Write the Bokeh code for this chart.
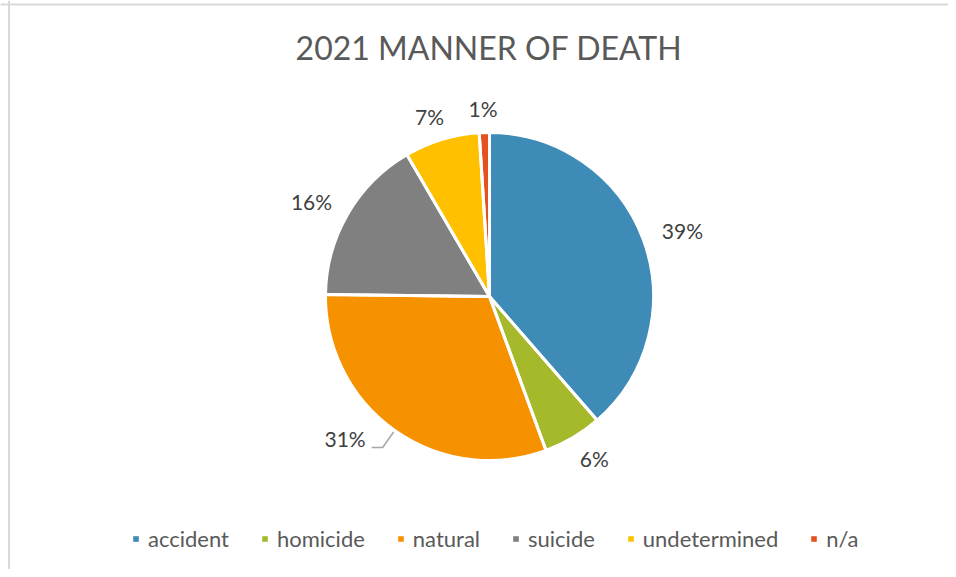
import numpy as np
from bokeh.plotting import figure
from bokeh.models import ColumnDataSource, Range1d, Legend, LegendItem, Label, Span
from bokeh.core.properties import value
from bokeh.embed import file_html
from bokeh.resources import INLINE

# ---- data ----
categories = ["accident", "homicide", "natural", "suicide", "undetermined", "n/a"]
shares = [38.6, 5.8, 30.8, 16.4, 7.4, 1.0]
colors = ["#3F8BB7", "#A5B92A", "#F69200", "#808080", "#FFC000", "#E4531F"]
leader = [False, False, True, False, False, False]
title_text = "2021 MANNER OF DEATH"

FONT = "Lato"
W, H = 948, 569
cx, cy, R = 489, H - 296, 164

frac = np.array(shares) / sum(shares)
cum = np.concatenate([[0.0], np.cumsum(frac)])
start = np.pi / 2 - 2 * np.pi * cum[:-1]
end = np.pi / 2 - 2 * np.pi * cum[1:]
mid = (start + end) / 2
labels = [f"{round(s)}%" for s in shares]

src = ColumnDataSource(dict(
    x=[cx] * len(categories), y=[cy] * len(categories),
    start=start, end=end, color=colors, name=categories,
))

p = figure(width=W, height=H, output_backend="svg", toolbar_location=None,
           x_range=Range1d(0, W), y_range=Range1d(0, H),
           x_axis_type=None, y_axis_type=None, min_border=0,
           outline_line_color=None, background_fill_color="white",
           border_fill_color="white")
p.grid.visible = False

# border lines (top and left)
p.add_layout(Span(location=H - 4, dimension="width", line_color="#D9D9D9", line_width=2))
p.add_layout(Span(location=8.5, dimension="height", line_color="#D9D9D9", line_width=2))

fill_r = p.wedge(x="x", y="y", radius=R, start_angle="start", end_angle="end",
                 direction="clock", fill_color="color", line_color=None, source=src)
p.wedge(x="x", y="y", radius=R, start_angle="start", end_angle="end",
        direction="clock", fill_color=None, line_color="white", line_width=3, source=src)

# data labels
ax, by = 206, 188
nx, ny, nt = [], [], []
for i, m in enumerate(mid):
    if leader[i]:
        ex, ey = cx + 185 * np.cos(m), cy + 185 * np.sin(m)
        sx, sy = cx + 166 * np.cos(m), cy + 166 * np.sin(m)
        hx = ex - 11 if np.cos(m) < 0 else ex + 11
        p.line([sx, ex, hx], [sy, ey, ey], line_color="#A6A6A6", line_width=1.5)
        tx = hx - 6 if np.cos(m) < 0 else hx + 6
        p.text(x=[tx], y=[ey + 9], text=[labels[i]],
               text_align="right" if np.cos(m) < 0 else "left",
               text_baseline="middle", text_font=value(FONT),
               text_font_size="21px", text_color="#404040")
    else:
        nx.append(cx + ax * np.cos(m))
        ny.append(cy + by * np.sin(m))
        nt.append(labels[i])
p.text(x=nx, y=ny, text=nt, text_align="center", text_baseline="middle",
       text_font=value(FONT), text_font_size="21px", text_color="#404040")

# title
p.add_layout(Label(x=488.5, y=H - 47, text=title_text, text_align="center",
                   text_baseline="middle", text_font=FONT,
                   text_font_size="32px", text_color="#595959"))

# legend
items = [LegendItem(label=c, renderers=[fill_r], index=i) for i, c in enumerate(categories)]
legend = Legend(items=items, orientation="horizontal", location=(132, 17),
                glyph_width=7, glyph_height=7, label_standoff=9, spacing=32,
                padding=0, margin=0, border_line_color=None,
                background_fill_alpha=0, label_text_font=FONT,
                label_text_font_size="22px", label_text_color="#595959")
p.add_layout(legend, "center")

open("out.html", "w").write(file_html(p, INLINE))
